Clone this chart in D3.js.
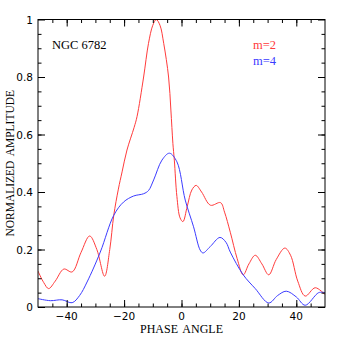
<!DOCTYPE html>
<html>
<head>
<meta charset="utf-8">
<script src="https://cdn.jsdelivr.net/npm/d3@7"></script>
<style>
  body { margin: 0; background: #fff; }
  svg { display: block; }
</style>
</head>
<body>
<svg></svg>
<script>
//data
const phaseM2 = [-50, -48, -46.3, -44, -41, -38.1, -35, -32, -29.5, -26.8, -25, -23.6, -22, -20.7, -19, -16.5, -15.5, -13.2, -11.5, -10, -8.8, -7.5, -6.2, -4.5, -3.7, -3, -2.5, -1.6, -0.5, 0.5, 2, 3.6, 5.1, 7, 10.1, 13.6, 15, 17, 19.4, 21.5, 23.5, 25.7, 28, 30.4, 33, 36, 38, 40.5, 43.1, 46.6, 50];
const ampM2 = [0.125, 0.085, 0.064, 0.09, 0.132, 0.122, 0.19, 0.247, 0.2, 0.107, 0.2, 0.319, 0.41, 0.47, 0.546, 0.625, 0.662, 0.8, 0.917, 0.98, 1.0, 0.98, 0.917, 0.8, 0.685, 0.569, 0.511, 0.384, 0.31, 0.297, 0.35, 0.407, 0.423, 0.4, 0.354, 0.363, 0.33, 0.26, 0.168, 0.112, 0.15, 0.18, 0.15, 0.112, 0.165, 0.205, 0.18, 0.09, 0.038, 0.067, 0.043];

const phaseM4 = [-50, -45.7, -41.6, -38.1, -35.5, -32.9, -28.3, -23.6, -20.2, -16.7, -13.2, -11.5, -9.7, -6.8, -4.2, -1.6, 1.3, 4.2, 6.5, 7.5, 10, 13.4, 15.5, 17, 21.5, 25.7, 30.4, 33.5, 36.5, 40, 43.1, 47.8, 50];
const ampM4 = [0.029, 0.022, 0.025, 0.015, 0.04, 0.087, 0.191, 0.319, 0.365, 0.386, 0.394, 0.405, 0.442, 0.511, 0.535, 0.505, 0.372, 0.279, 0.198, 0.188, 0.21, 0.242, 0.225, 0.191, 0.112, 0.064, 0.014, 0.04, 0.055, 0.035, 0.006, 0.05, 0.05];

const xTicks = [-40, -20, 0, 20, 40];
const yTicks = [0, 0.2, 0.4, 0.6, 0.8, 1];
const yTickLabels = ["0", "0.2", "0.4", "0.6", "0.8", "1"];

//constants
const margin = {top: 19.5, right: 19, bottom: 37, left: 38};
const width = 344 - margin.left - margin.right;
const height = 344 - margin.top - margin.bottom;
const serif = "'Liberation Serif', 'DejaVu Serif', serif";
const sans = "'DejaVu Sans', sans-serif";

const svg = d3.select("svg")
    .attr("width", 344)
    .attr("height", 344)
    .append("g")
    .attr("transform", "translate(" + margin.left + "," + margin.top + ")");

//scales
const xScale = d3.scaleLinear().domain([-50, 50]).range([0, width]);
const yScale = d3.scaleLinear().domain([0, 1]).range([height, 0]);

//curves
const line = d3.line()
    .x(d => xScale(d[0]))
    .y(d => yScale(d[1]))
    .curve(d3.curveCatmullRom.alpha(0.5));

svg.append("clipPath").attr("id", "plotclip")
    .append("rect").attr("width", width).attr("height", height);

svg.append("path")
    .datum(phaseM2.map((x, i) => [x, ampM2[i]]))
    .attr("d", line)
    .attr("fill", "none")
    .attr("stroke", "#ff3b3b")
    .attr("stroke-width", 1)
    .attr("clip-path", "url(#plotclip)");

svg.append("path")
    .datum(phaseM4.map((x, i) => [x, ampM4[i]]))
    .attr("d", line)
    .attr("fill", "none")
    .attr("stroke", "#3b3bff")
    .attr("stroke-width", 1)
    .attr("clip-path", "url(#plotclip)");

//axes (ticks inside, all four sides)
const xMinor = d3.range(-45, 50, 5);
const yMinor = d3.range(0.05, 1, 0.05);

svg.append("g")
    .attr("transform", "translate(0," + height + ")")
    .call(d3.axisTop(xScale).tickValues(xMinor).tickSize(3.5).tickFormat(""));
svg.append("g")
    .attr("transform", "translate(0," + height + ")")
    .call(d3.axisTop(xScale).tickValues(xTicks).tickSize(7).tickFormat(""));
svg.append("g")
    .call(d3.axisBottom(xScale).tickValues(xMinor).tickSize(3.5).tickFormat(""));
svg.append("g")
    .call(d3.axisBottom(xScale).tickValues(xTicks).tickSize(7).tickFormat(""));

svg.append("g")
    .call(d3.axisRight(yScale).tickValues(yMinor).tickSize(3.5).tickFormat(""));
svg.append("g")
    .call(d3.axisRight(yScale).tickValues(yTicks).tickSize(7).tickFormat(""));
svg.append("g")
    .attr("transform", "translate(" + width + ",0)")
    .call(d3.axisLeft(yScale).tickValues(yMinor).tickSize(3.5).tickFormat(""));
svg.append("g")
    .attr("transform", "translate(" + width + ",0)")
    .call(d3.axisLeft(yScale).tickValues(yTicks).tickSize(7).tickFormat(""));

svg.selectAll(".domain").remove();
svg.selectAll(".tick line").attr("stroke", "#000").attr("stroke-width", 1);

//frame
svg.append("rect")
    .attr("width", width)
    .attr("height", height)
    .attr("fill", "none")
    .attr("stroke", "#000")
    .attr("stroke-width", 1);

//tick labels
svg.selectAll(".xlab")
    .data(xTicks)
    .enter()
    .append("text")
    .attr("x", d => xScale(d))
    .attr("y", height + 13)
    .attr("text-anchor", "middle")
    .style("font-family", sans)
    .style("font-size", "10.5px")
    .text(d => d < 0 ? "\u2212" + Math.abs(d) : d);

svg.selectAll(".ylab")
    .data(yTicks)
    .enter()
    .append("text")
    .attr("x", -5)
    .attr("y", d => yScale(d) + 4)
    .attr("text-anchor", "end")
    .style("font-family", sans)
    .style("font-size", "10.5px")
    .text((d, i) => yTickLabels[i]);

//axis titles
svg.append("text")
    .attr("x", xScale(0))
    .attr("y", height + 26)
    .attr("text-anchor", "middle")
    .style("font-family", serif)
    .style("font-size", "12px")
    .style("word-spacing", "2px")
    .text("PHASE ANGLE");

svg.append("text")
    .attr("transform", "rotate(-90)")
    .attr("x", -(height / 2))
    .attr("y", -24)
    .attr("text-anchor", "middle")
    .style("font-family", serif)
    .style("font-size", "11.5px")
    .style("word-spacing", "2px")
    .text("NORMALIZED AMPLITUDE");

//annotations
svg.append("text")
    .attr("x", 52 - margin.left)
    .attr("y", 49 - margin.top)
    .style("font-family", serif)
    .style("font-size", "12.5px")
    .text("NGC 6782");

svg.append("text")
    .attr("x", 253 - margin.left)
    .attr("y", 49 - margin.top)
    .attr("fill", "#ff3b3b")
    .style("font-family", serif)
    .style("font-size", "12.5px")
    .text("m=2");

svg.append("text")
    .attr("x", 253 - margin.left)
    .attr("y", 64.5 - margin.top)
    .attr("fill", "#3b3bff")
    .style("font-family", serif)
    .style("font-size", "12.5px")
    .text("m=4");
</script>
</body>
</html>
